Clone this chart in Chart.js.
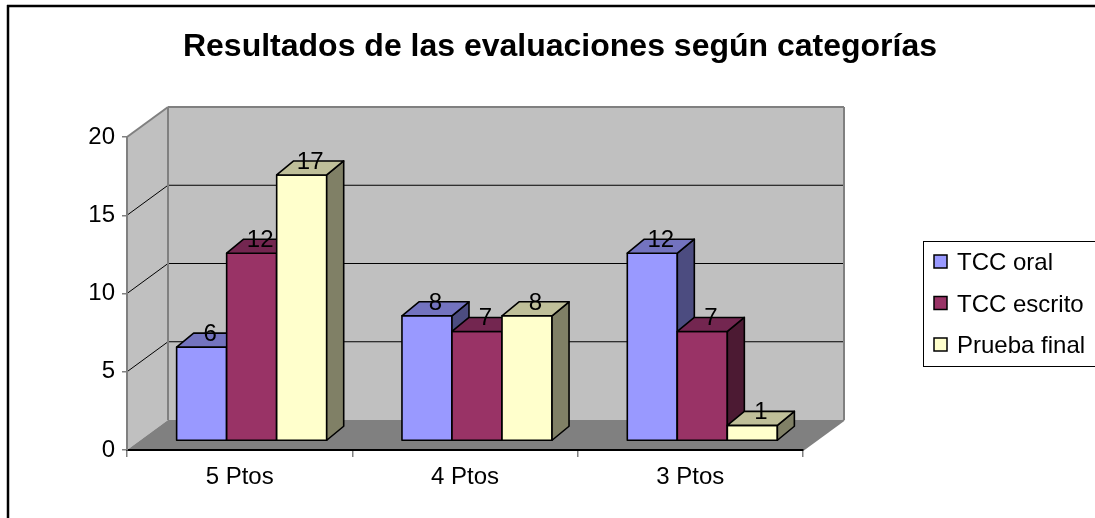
<!DOCTYPE html>
<html>
<head>
<meta charset="utf-8">
<script src="https://cdn.jsdelivr.net/npm/chart.js@4.4.1/dist/chart.umd.min.js"></script>
<style>
  html, body { margin: 0; padding: 0; background: #fff; }
</style>
</head>
<body>
<canvas id="chart" width="1095" height="518"></canvas>
<script>
// data
const categories = ['5 Ptos', '4 Ptos', '3 Ptos']
const seriesNames = ['TCC oral', 'TCC escrito', 'Prueba final']
const tccOral = [6, 8, 12]
const tccEscrito = [12, 7, 7]
const pruebaFinal = [17, 8, 1]
const yTicks = [0, 5, 10, 15, 20]

const chartTitle = 'Resultados de las evaluaciones según categorías'
const font = '"Liberation Sans", Arial, sans-serif'

// front / top / side shades for each series (Excel 3D look)
const colors = [
  { front: '#9999ff', top: '#7373bf', side: '#4c4c80' },
  { front: '#993366', top: '#732650', side: '#4c1a33' },
  { front: '#ffffcc', top: '#bfbf99', side: '#808066' }
]

const depth = { x: 41, y: -30 }     // back wall offset from the front axes
const barShift = { x: 12, y: -9 }   // bars stand a bit inside the floor
const barDepth = { x: 17, y: -14 }  // extrusion of each bar

function poly(ctx, pts, fill, stroke, lw) {
  ctx.beginPath()
  ctx.moveTo(pts[0][0], pts[0][1])
  for (let i = 1; i < pts.length; i++) ctx.lineTo(pts[i][0], pts[i][1])
  ctx.closePath()
  if (fill) { ctx.fillStyle = fill; ctx.fill() }
  if (stroke) { ctx.strokeStyle = stroke; ctx.lineWidth = lw || 1; ctx.stroke() }
}

function line(ctx, x1, y1, x2, y2, color, lw) {
  ctx.beginPath()
  ctx.moveTo(x1, y1)
  ctx.lineTo(x2, y2)
  ctx.strokeStyle = color
  ctx.lineWidth = lw
  ctx.stroke()
}

// walls, floor and gridlines behind everything
const walls = {
  id: 'walls',
  beforeDraw(chart) {
    const { ctx, chartArea: a, scales: { y } } = chart
    const dx = depth.x, dy = depth.y
    ctx.save()
    // frame (only top and left edges are inside the picture)
    line(ctx, 7, 6, 1095, 6, '#000', 2.5)
    line(ctx, 8, 5, 8, 518, '#000', 2.5)

    poly(ctx, [[a.left, a.top], [a.left + dx, a.top + dy], [a.left + dx, a.bottom + dy], [a.left, a.bottom]], '#c0c0c0')
    poly(ctx, [[a.left + dx, a.top + dy], [a.right + dx, a.top + dy], [a.right + dx, a.bottom + dy], [a.left + dx, a.bottom + dy]], '#c0c0c0')
    poly(ctx, [[a.left, a.bottom], [a.right, a.bottom], [a.right + dx, a.bottom + dy], [a.left + dx, a.bottom + dy]], '#808080')

    y.ticks.forEach(t => {
      if (t.value <= y.min || t.value >= y.max) return
      const py = y.getPixelForValue(t.value)
      line(ctx, a.left, py, a.left + dx, py + dy, '#000', 1)
      line(ctx, a.left + dx, py + dy, a.right + dx, py + dy, '#000', 1)
    })

    const edge = '#808080'
    line(ctx, a.left, a.top, a.left + dx, a.top + dy, edge, 2)
    line(ctx, a.left + dx, a.top + dy, a.right + dx, a.top + dy, edge, 2)
    line(ctx, a.left + dx, a.top + dy, a.left + dx, a.bottom + dy, edge, 2)
    line(ctx, a.right + dx, a.top + dy, a.right + dx, a.bottom + dy, edge, 2)
    line(ctx, a.right, a.bottom, a.right + dx, a.bottom + dy, edge, 2)
    ctx.restore()
  }
}

// 3D bars drawn from the library's bar elements
const bars3d = {
  id: 'bars3d',
  beforeDatasetsDraw(chart) {
    chart.ctx.save()
    chart.ctx.translate(barShift.x, barShift.y)
  },
  afterDatasetsDraw(chart) {
    const ctx = chart.ctx
    const metas = chart.getSortedVisibleDatasetMetas().sort((p, q) => p.index - q.index)
    const bx = barDepth.x, by = barDepth.y
    ctx.lineJoin = 'round'
    categories.forEach((c, i) => {
      metas.forEach(m => {
        const el = m.data[i]
        const col = colors[m.index]
        const l = el.x - el.width / 2, r = el.x + el.width / 2, t = el.y, b = el.base
        poly(ctx, [[l, t], [r, t], [r, b], [l, b]], col.front, '#000', 1.6)
        poly(ctx, [[r, t], [r + bx, t + by], [r + bx, b + by], [r, b]], col.side, '#000', 1.6)
        poly(ctx, [[l, t], [l + bx, t + by], [r + bx, t + by], [r, t]], col.top, '#000', 1.6)
      })
    })
    // value labels sitting on the top faces
    ctx.fillStyle = '#000'
    ctx.font = '24px ' + font
    ctx.textAlign = 'center'
    ctx.textBaseline = 'alphabetic'
    metas.forEach(m => {
      m.data.forEach((el, i) => {
        const v = chart.data.datasets[m.index].data[i]
        ctx.fillText(String(v), el.x + bx / 2, el.y + by / 2 + 1)
      })
    })
    ctx.restore()
  }
}

// title and boxed legend
const extras = {
  id: 'extras',
  afterDraw(chart) {
    const ctx = chart.ctx
    ctx.save()
    ctx.fillStyle = '#000'
    ctx.font = 'bold 32px ' + font
    ctx.textAlign = 'center'
    ctx.textBaseline = 'alphabetic'
    ctx.fillText(chartTitle, 560, 56)

    ctx.strokeStyle = '#000'
    ctx.lineWidth = 1
    ctx.strokeRect(923.5, 241.5, 200, 125)
    ctx.font = '24px ' + font
    ctx.textAlign = 'left'
    seriesNames.forEach((name, i) => {
      const base = 270 + i * 41.5
      ctx.fillStyle = colors[i].front
      ctx.fillRect(934, base - 15, 13, 13)
      ctx.lineWidth = 1.5
      ctx.strokeRect(934, base - 15, 13, 13)
      ctx.fillStyle = '#000'
      ctx.fillText(name, 957, base)
    })
    ctx.restore()
  }
}

const seriesValues = [tccOral, tccEscrito, pruebaFinal]

new Chart(document.getElementById('chart'), {
  type: 'bar',
  data: {
    labels: categories,
    datasets: seriesNames.map((name, i) => ({
      label: name,
      data: seriesValues[i],
      backgroundColor: colors[i].front,
      borderColor: '#000',
      borderWidth: 1.5,
      categoryPercentage: 0.666,
      barPercentage: 1
    }))
  },
  options: {
    responsive: false,
    animation: false,
    layout: { padding: { top: 137, right: 292, bottom: 0, left: 0 } },
    plugins: {
      legend: { display: false },
      title: { display: false },
      tooltip: { enabled: false }
    },
    scales: {
      x: {
        afterFit(s) { s.height = 68 },
        border: { color: '#000', width: 2 },
        grid: { drawOnChartArea: false, offset: true, tickLength: 7, color: '#808080', lineWidth: 1.5 },
        ticks: { color: '#000', font: { family: font, size: 24 }, padding: 6, maxRotation: 0 }
      },
      y: {
        min: 0,
        max: 20,
        afterFit(s) { s.width = 127 },
        afterBuildTicks(s) { s.ticks = yTicks.map(v => ({ value: v })) },
        border: { color: '#808080', width: 2 },
        grid: { drawOnChartArea: false, tickLength: 5, color: '#808080', lineWidth: 1.5 },
        ticks: { color: '#000', font: { family: font, size: 24 }, padding: 7 }
      }
    }
  },
  plugins: [walls, bars3d, extras]
})
</script>
</body>
</html>
